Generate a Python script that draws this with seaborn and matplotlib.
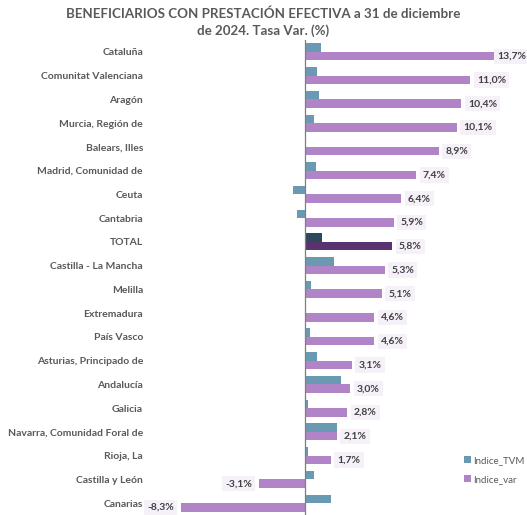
#%%

import pandas as pd
import seaborn as sns
import matplotlib.pyplot as plt
from matplotlib.patches import Patch

# %%
# datos

regiones = ['Cataluña', 'Comunitat Valenciana', 'Aragón', 'Murcia, Región de',
            'Balears, Illes', 'Madrid, Comunidad de', 'Ceuta', 'Cantabria', 'TOTAL',
            'Castilla - La Mancha', 'Melilla', 'Extremadura', 'País Vasco',
            'Asturias, Principado de', 'Andalucía', 'Galicia',
            'Navarra, Comunidad Foral de', 'Rioja, La', 'Castilla y León', 'Canarias']

indice_tvm = [1.05, 0.75, 0.9, 0.6, 0.02, 0.7, -0.85, -0.55, 1.1, 1.9,
              0.4, -0.05, 0.3, 0.75, 2.4, 0.15, 2.1, 0.15, 0.6, 1.7]

indice_var = [13.7, 11.0, 10.4, 10.1, 8.9, 7.4, 6.4, 5.9, 5.8, 5.3,
              5.1, 4.6, 4.6, 3.1, 3.0, 2.8, 2.1, 1.7, -3.1, -8.3]

series = ['Indice_TVM', 'Indice_var']

# %%
# formato largo

df = pd.DataFrame({'region': regiones, 'Indice_TVM': indice_tvm, 'Indice_var': indice_var})
df_long = df.melt(id_vars='region', var_name='serie', value_name='valor')

# %%
# visualización

azul = '#6a9ab2'
morado = '#b084c6'
gris = '#595959'

plt.rcParams['font.family'] = ['Lato', 'DejaVu Sans']

fig = plt.figure(figsize=(5.27, 5.15), dpi=100)
ax = fig.add_axes([155.5 / 527, 0.0, 1 - 155.5 / 527, 1 - 40 / 515])

sns.barplot(data=df_long, y='region', x='valor', hue='serie', order=regiones,
            hue_order=series, palette=[azul, morado], saturation=1, width=0.72,
            orient='h', ax=ax, legend=False)

# TOTAL en colores oscuros
idx_total = regiones.index('TOTAL')
ax.containers[0][idx_total].set_facecolor('#2e4a5a')
ax.containers[1][idx_total].set_facecolor('#5a3270')

ax.set_xlim(-10, 14.8)
ax.set_ylim(len(regiones) - 0.5, -0.5)
ax.set_xticks([-10, -5, 0, 5, 10])
ax.xaxis.set_visible(False)
ax.grid(axis='x', color='#d9d9d9', linewidth=0.8)
ax.set_axisbelow(True)
ax.axvline(0, color='#7f7f7f', linewidth=0.9)
for s in ax.spines.values():
    s.set_visible(False)

ax.set_xlabel('')
ax.set_ylabel('')
ax.tick_params(axis='y', length=0, pad=9)
for lbl in ax.get_yticklabels():
    lbl.set_fontsize(7.5)
    lbl.set_fontweight('bold')
    lbl.set_color(gris)

# etiquetas de datos
for bar, v in zip(ax.containers[1], indice_var):
    yc = bar.get_y() + bar.get_height() / 2
    texto = f'{v:.1f}%'.replace('.', ',')
    if v >= 0:
        x = min(v + 0.45, 12.8)
        ha = 'left'
    else:
        x = v - 0.45
        ha = 'right'
    ax.text(x, yc, texto, ha=ha, va='center', fontsize=7.5, fontweight='bold',
            color='#404040',
            bbox=dict(boxstyle='square,pad=0.3', facecolor='#f6f0f9', edgecolor='none'))

# leyenda
handles = [Patch(facecolor=azul, label='Indice_TVM'), Patch(facecolor=morado, label='Indice_var')]
fig.legend(handles=handles, loc='center left', bbox_to_anchor=(455 / 527, 1 - 470 / 515),
           frameon=False, fontsize=7, labelcolor=gris, handlelength=0.7, handleheight=0.7,
           handletextpad=0.3, labelspacing=1.0)

fig.text(0.5, 0.985, 'BENEFICIARIOS CON PRESTACIÓN EFECTIVA a 31 de diciembre\nde 2024. Tasa Var. (%)',
         ha='center', va='top', fontsize=9.6, fontweight='bold', color=gris, linespacing=1.35)

plt.savefig('out.png', dpi=100)
